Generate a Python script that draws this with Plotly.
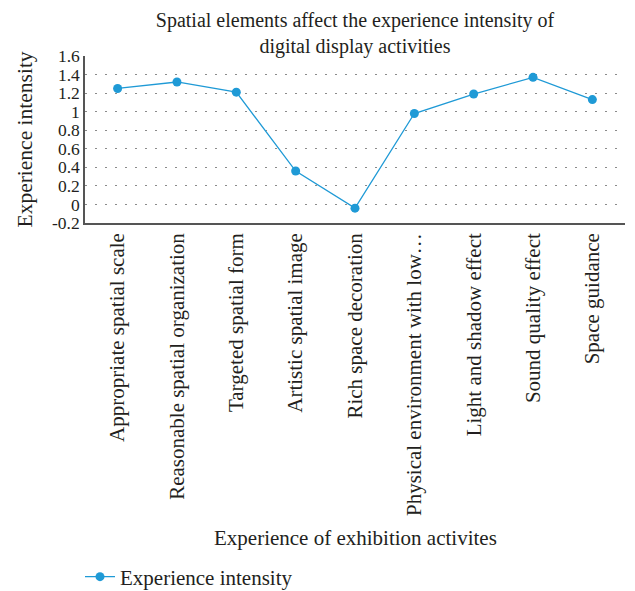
import plotly.graph_objects as go

categories = [
    "Appropriate spatial scale",
    "Reasonable spatial organization",
    "Targeted spatial form",
    "Artistic spatial image",
    "Rich space decoration",
    "Physical environment with low…",
    "Light and shadow effect",
    "Sound quality effect",
    "Space guidance",
]
intensity = [1.25, 1.32, 1.21, 0.36, -0.04, 0.98, 1.19, 1.37, 1.13]
y_ticks = [-0.2, 0, 0.2, 0.4, 0.6, 0.8, 1.0, 1.2, 1.4, 1.6]
y_tick_labels = ["-0.2", "0", "0.2", "0.4", "0.6", "0.8", "1", "1.2", "1.4", "1.6"]

FONT = "Liberation Serif"
BLUE = "#1f9ad6"
TEXT = "#231f20"

# the page body has an 8px default margin; figure sized to fit the window
OFF = 8
W, H = 635 - OFF, 591 - OFF
L, R, T, B = 85 - OFF, 10, 56 - OFF, 368
pw = W - L - R
ph = H - T - B

fig = go.Figure()
fig.add_trace(go.Scatter(
    x=categories, y=intensity, mode="lines+markers",
    name="Experience intensity",
    line=dict(color=BLUE, width=1.3),
    marker=dict(color=BLUE, size=9),
))

fig.update_layout(
    width=W, height=H,
    margin=dict(l=L, r=R, t=T, b=B, autoexpand=False),
    paper_bgcolor="white", plot_bgcolor="white",
    font=dict(family=FONT, size=20, color=TEXT),
    title=dict(
        text="Spatial elements affect the experience intensity of<br>digital display activities",
        x=(L + pw / 2) / W, xanchor="center",
        y=1 - (26.5 - OFF) / H, yanchor="middle",
        font=dict(family=FONT, size=20, color=TEXT),
    ),
    showlegend=True,
    legend=dict(
        orientation="h", xref="container", yref="container",
        x=(80 - OFF) / W, xanchor="left",
        y=1 - (577 - OFF) / H, yanchor="middle",
        font=dict(family=FONT, size=21, color=TEXT),
        bgcolor="rgba(0,0,0,0)",
    ),
    xaxis=dict(
        type="category",
        tickangle=-90,
        automargin=False,
        showline=True, linecolor="#555555", linewidth=1.5,
        showgrid=False, ticks="",
        tickfont=dict(family=FONT, size=21, color=TEXT),
        zeroline=False,
    ),
    yaxis=dict(
        range=[-0.2, 1.6],
        automargin=False,
        tickvals=y_ticks, ticktext=y_tick_labels,
        showline=True, linecolor="#555555", linewidth=1.5,
        showgrid=True, gridcolor="#8a8a8a", griddash="2px,8px", gridwidth=1,
        zeroline=False, ticks="",
        tickfont=dict(family=FONT, size=17.5, color=TEXT),
    ),
    annotations=[
        dict(text="Experience of exhibition activites", xref="paper", yref="paper",
             x=0.5, y=(223 - 538) / ph, xanchor="center", yanchor="middle",
             showarrow=False, font=dict(family=FONT, size=21, color=TEXT)),
        dict(text="Experience intensity", xref="paper", yref="paper",
             x=(24 - 85) / pw, y=0.5, xanchor="center", yanchor="middle",
             textangle=-90, showarrow=False,
             font=dict(family=FONT, size=21.5, color=TEXT)),
    ],
)

fig.write_html("out.html")
